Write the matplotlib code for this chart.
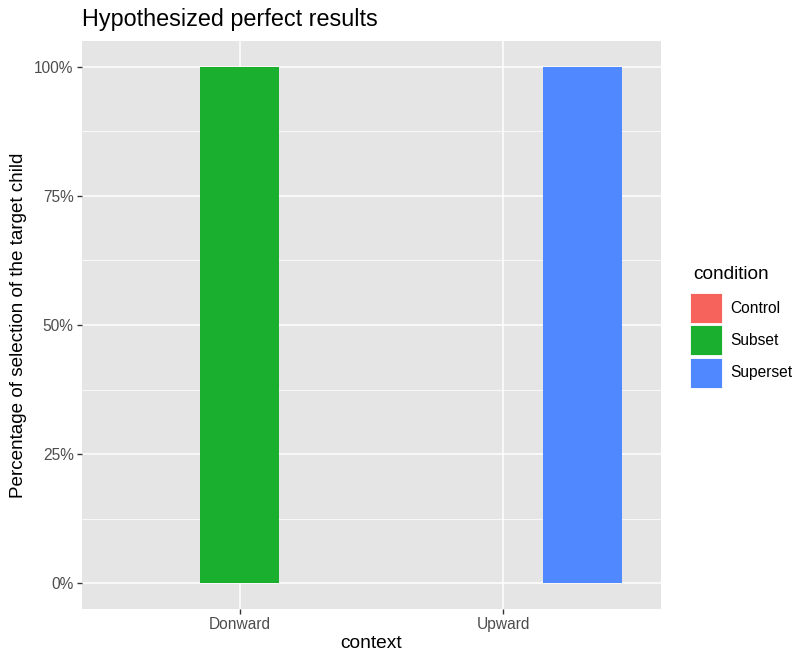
import numpy as np
import matplotlib
matplotlib.use("Agg")
import matplotlib.pyplot as plt
from matplotlib.patches import Patch

plt.rcParams["font.family"] = ["Liberation Sans", "DejaVu Sans"]

# Data
contexts = ["Donward", "Upward"]
conditions = ["Control", "Subset", "Superset"]
values = {
    "Control": [0.0, 0.0],
    "Subset": [1.0, 0.0],
    "Superset": [0.0, 1.0],
}
colors = {"Control": "#F6625C", "Subset": "#1AAF2F", "Superset": "#4F88FF"}
yticks = [0, 0.25, 0.5, 0.75, 1.0]
ytick_labels = ["0%", "25%", "50%", "75%", "100%"]

fig = plt.figure(figsize=(7.98, 6.55), dpi=100)
ax = fig.add_axes([0.1028, 0.0702, 0.7255, 0.8672])
ax.set_facecolor("#E5E5E5")

x = np.arange(1, len(contexts) + 1)
width = 0.3
for i, cond in enumerate(conditions):
    ax.bar(x + (i - 1) * width, values[cond], width=width,
           color=colors[cond], zorder=3)

# ggplot-ish grid
for y in yticks:
    ax.axhline(y, color="white", lw=1.1, zorder=1)
for y in np.arange(0.125, 1.0, 0.25):
    ax.axhline(y, color="white", lw=0.55, zorder=1)
for xi in x:
    ax.axvline(xi, color="white", lw=1.1, zorder=1)

ax.set_xlim(0.4, 2.6)
ax.set_ylim(-0.05, 1.05)
ax.set_xticks(x)
ax.set_xticklabels(contexts)
ax.set_yticks(yticks)
ax.set_yticklabels(ytick_labels)
ax.tick_params(colors="#333333", labelcolor="#4D4D4D", labelsize=11.2,
               length=3.5, width=1, pad=2.5)
for s in ax.spines.values():
    s.set_visible(False)

ax.set_xlabel("context", fontsize=13.8, labelpad=2)
ax.set_ylabel("Percentage of selection of the target child", fontsize=13.6, labelpad=5)
ax.set_title("Hypothesized perfect results", fontsize=16.8, loc="left", pad=11, x=0.0)

# legend (title drawn separately to get the ggplot spacing)
fig.text(693 / 798, 1 - 274 / 655, "condition", fontsize=13.7, va="center", ha="left")
handles = [Patch(facecolor=colors[c], edgecolor="white", lw=0.6) for c in conditions]
leg = fig.legend(handles, conditions, loc="upper left",
                 bbox_to_anchor=(690 / 798, 1 - 293 / 655), frameon=False,
                 fontsize=11.2, handlelength=2.05, handleheight=2.6,
                 labelspacing=0.14, handletextpad=0.55, borderaxespad=0,
                 borderpad=0)

fig.savefig("out.png", dpi=100)
